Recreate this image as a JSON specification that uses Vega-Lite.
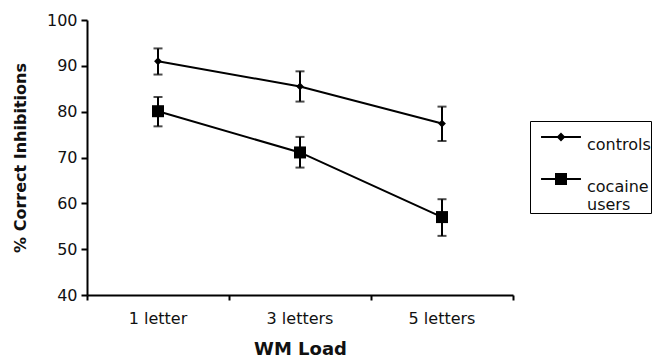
{
  "$schema": "https://vega.github.io/schema/vega-lite/v6.json",
  "width": 426,
  "height": 275,
  "autosize": {"type": "none"},
  "padding": {"left": 87, "top": 20, "right": 145, "bottom": 67},
  "background": "white",
  "config": {
    "view": {"stroke": null},
    "font": "DejaVu Sans",
    "axis": {
      "domainColor": "black",
      "domainWidth": 2,
      "tickColor": "black",
      "tickWidth": 2,
      "labelColor": "#111",
      "labelFont": "DejaVu Sans",
      "labelFontSize": 16,
      "titleColor": "#111",
      "titleFont": "DejaVu Sans",
      "titleFontWeight": "bold",
      "titleFontSize": 16,
      "grid": false
    }
  },
  "data": {
    "values": [
      {"load": "1 letter", "group": "controls", "mean": 91.0, "lo": 88.1, "hi": 93.8},
      {"load": "3 letters", "group": "controls", "mean": 85.5, "lo": 82.2, "hi": 88.8},
      {"load": "5 letters", "group": "controls", "mean": 77.4, "lo": 73.6, "hi": 81.1},
      {"load": "1 letter", "group": "cocaine users", "mean": 80.1, "lo": 76.8, "hi": 83.2},
      {"load": "3 letters", "group": "cocaine users", "mean": 71.1, "lo": 67.8, "hi": 74.5},
      {"load": "5 letters", "group": "cocaine users", "mean": 57.0, "lo": 52.9, "hi": 60.9}
    ]
  },
  "encoding": {
    "x": {
      "field": "load",
      "type": "nominal",
      "sort": ["1 letter", "3 letters", "5 letters"],
      "scale": {"type": "band", "paddingInner": 0, "paddingOuter": 0},
      "axis": {
        "title": "WM Load",
        "labelAngle": 0,
        "tickSize": 5,
        "labelPadding": 10,
        "titlePadding": 14,
        "titleFontSize": 18,
        "bandPosition": 1,
        "tickExtra": true
      }
    }
  },
  "resolve": {"scale": {"shape": "independent"}},
  "layer": [
    {
      "mark": {"type": "rule", "color": "black", "strokeWidth": 2},
      "encoding": {
        "y": {"field": "lo", "type": "quantitative"},
        "y2": {"field": "hi"}
      }
    },
    {
      "mark": {"type": "tick", "color": "black", "thickness": 2, "size": 9, "orient": "horizontal"},
      "encoding": {"y": {"field": "lo", "type": "quantitative"}}
    },
    {
      "mark": {"type": "tick", "color": "black", "thickness": 2, "size": 9, "orient": "horizontal"},
      "encoding": {"y": {"field": "hi", "type": "quantitative"}}
    },
    {
      "mark": {"type": "line", "color": "black", "strokeWidth": 2},
      "encoding": {
        "y": {"field": "mean", "type": "quantitative"},
        "detail": {"field": "group"}
      }
    },
    {
      "mark": {"type": "point", "filled": true, "color": "black", "opacity": 1, "size": 144},
      "encoding": {
        "y": {
          "field": "mean",
          "type": "quantitative",
          "scale": {"domain": [40, 100], "nice": false, "zero": false},
          "axis": {
            "title": "% Correct Inhibitions",
            "values": [40, 50, 60, 70, 80, 90, 100],
            "tickSize": 6,
            "labelPadding": 4,
            "titlePadding": 18
          }
        },
        "shape": {
          "field": "group",
          "type": "nominal",
          "scale": {"domain": ["controls", "cocaine users"], "range": ["M0,-0.65L0.65,0L0,0.65L-0.65,0Z", "M-1,-1H1V1H-1Z"]},
          "legend": null
        }
      }
    },
    {
      "mark": {"type": "point", "filled": false, "color": "black", "strokeWidth": 2, "opacity": 0, "size": 900},
      "encoding": {
        "y": {"field": "mean", "type": "quantitative"},
        "shape": {
          "field": "group",
          "type": "nominal",
          "scale": {"domain": ["controls", "cocaine users"], "range": ["M-1.33,0H1.33M0,-0.2L0.2,0L0,0.2L-0.2,0ZM0,-0.2V0.2", "M-1.33,0H1.33M-0.4,-0.333H0.4M-0.4,-0.2H0.4M-0.4,-0.067H0.4M-0.4,0.067H0.4M-0.4,0.2H0.4M-0.4,0.333H0.4"]},
          "legend": {
            "title": null,
            "orient": "none",
            "legendX": 443,
            "legendY": 101,
            "padding": 0,
            "strokeColor": "black",
            "symbolSize": 900,
            "symbolOffset": 15,
            "symbolOpacity": 1,
            "symbolStrokeColor": "black",
            "symbolStrokeWidth": 2,
            "labelOffset": 10,
            "rowPadding": 10,
            "labelFont": "DejaVu Sans",
            "labelFontSize": 16,
            "labelColor": "#111",
            "labelBaseline": "top",
            "labelExpr": "datum.label == 'cocaine users' ? ['cocaine', 'users'] : datum.label"
          }
        }
      }
    }
  ]
}
